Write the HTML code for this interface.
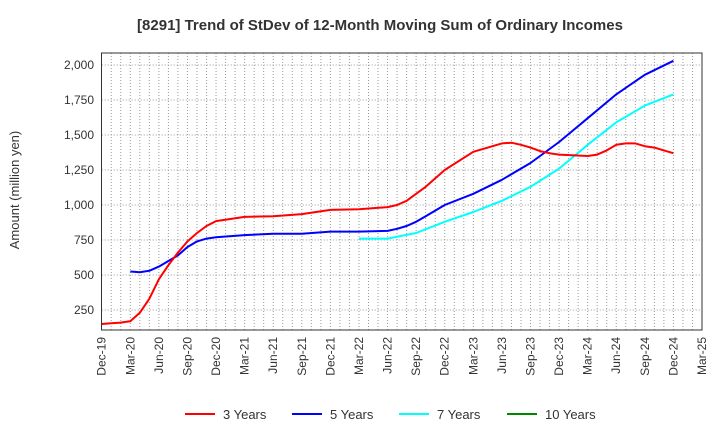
<!DOCTYPE html>
<html><head><meta charset="utf-8"><style>
body{margin:0;background:#fff;font-family:"Liberation Sans",Arial,sans-serif}
</style></head><body>
<svg width="720" height="440" xmlns="http://www.w3.org/2000/svg" font-family="Liberation Sans, Arial, sans-serif">
<text x="380" y="30" text-anchor="middle" font-size="15" font-weight="bold" fill="#333">[8291]  Trend of StDev of 12-Month Moving Sum of Ordinary Incomes</text>
<text transform="translate(19,190) rotate(-90)" text-anchor="middle" font-size="13" fill="#333">Amount (million yen)</text>
<g id="grid"></g><g id="axes"></g><g id="series"></g>
<rect x="101.5" y="53" width="600.5" height="277" fill="none" stroke="#333" stroke-width="1"/>
<g>
<g><line x1="185" y1="414" x2="215" y2="414" stroke="#f00" stroke-width="2"/><text x="223" y="419" font-size="13" fill="#333">3 Years</text></g>
<g><line x1="292" y1="414" x2="322" y2="414" stroke="#00f" stroke-width="2"/><text x="330" y="419" font-size="13" fill="#333">5 Years</text></g>
<g><line x1="399" y1="414" x2="429" y2="414" stroke="#0ff" stroke-width="2"/><text x="437" y="419" font-size="13" fill="#333">7 Years</text></g>
<g><line x1="507" y1="414" x2="537" y2="414" stroke="#080" stroke-width="2"/><text x="545" y="419" font-size="13" fill="#333">10 Years</text></g>
</g>
</svg>
<script>
const xLabels=["Dec-19","Mar-20","Jun-20","Sep-20","Dec-20","Mar-21","Jun-21","Sep-21","Dec-21","Mar-22","Jun-22","Sep-22","Dec-22","Mar-23","Jun-23","Sep-23","Dec-23","Mar-24","Jun-24","Sep-24","Dec-24","Mar-25"];
const yTicks=[250,500,750,1000,1250,1500,1750,2000];
const m3=[0,1,2,3,4,5,6,7,8,9,10,11,12,15,18,21,24,27,30,31,32,33,34,35,36,39,42,43,44,45,46,47,48,51,52,53,54,55,56,57,58,59,60];
const v3=[150,155,160,170,230,330,470,570,660,740,800,850,885,915,920,935,965,970,985,1000,1030,1080,1130,1190,1250,1380,1440,1445,1430,1410,1385,1370,1360,1350,1360,1390,1430,1440,1440,1420,1410,1390,1370];
const m5=[3,4,5,6,7,8,9,10,11,12,15,18,21,24,27,30,31,32,33,34,35,36,39,42,45,48,51,54,57,60];
const v5=[525,520,530,560,600,640,700,740,760,770,785,795,795,810,810,815,830,850,880,920,960,1000,1080,1180,1300,1450,1620,1790,1930,2030];
const m7=[27,30,33,36,39,42,45,48,51,54,57,60];
const v7=[760,760,800,880,950,1030,1130,1260,1430,1590,1710,1790];
const X0=101.7,X1=702,Y=v=>345-v*0.14,X=m=>X0+m*(X1-X0)/63;
const NS="http://www.w3.org/2000/svg";
function mk(t,a,p){const e=document.createElementNS(NS,t);for(const k in a)e.setAttribute(k,a[k]);p.appendChild(e);return e;}
const grid=document.getElementById('grid'),axes=document.getElementById('axes'),ser=document.getElementById('series');
for(let m=1;m<63;m++){const l=mk('line',{x1:X(m),x2:X(m),y1:53,y2:330,stroke:'#999','stroke-dasharray':'1,2','stroke-width':1},grid);

}
yTicks.forEach(v=>{const l=mk('line',{x1:X0,x2:X1,y1:Y(v),y2:Y(v),stroke:'#999','stroke-dasharray':'1,2','stroke-width':1},grid);


const t=mk('text',{x:94,y:Y(v)+4,'text-anchor':'end','font-size':12,fill:'#333'},axes);t.textContent=v.toLocaleString('en-US');

});
xLabels.forEach((s,i)=>{const x=X(i*3);const t=mk('text',{transform:`translate(${x+4},337) rotate(-90)`,'text-anchor':'end','font-size':12,fill:'#333'},axes);t.textContent=s;

});
function draw(ms,vs,c,n){const d=ms.map((m,i)=>(i?'L':'M')+X(m).toFixed(1)+','+Y(vs[i]).toFixed(1)).join('');
const p=mk('path',{d:d,fill:'none',stroke:c,'stroke-width':2,'stroke-linejoin':'round'},ser);

}
draw(m7,v7,'#0ff','line-7-years');draw(m5,v5,'#00f','line-5-years');draw(m3,v3,'#f00','line-3-years');
</script>
</body></html>
